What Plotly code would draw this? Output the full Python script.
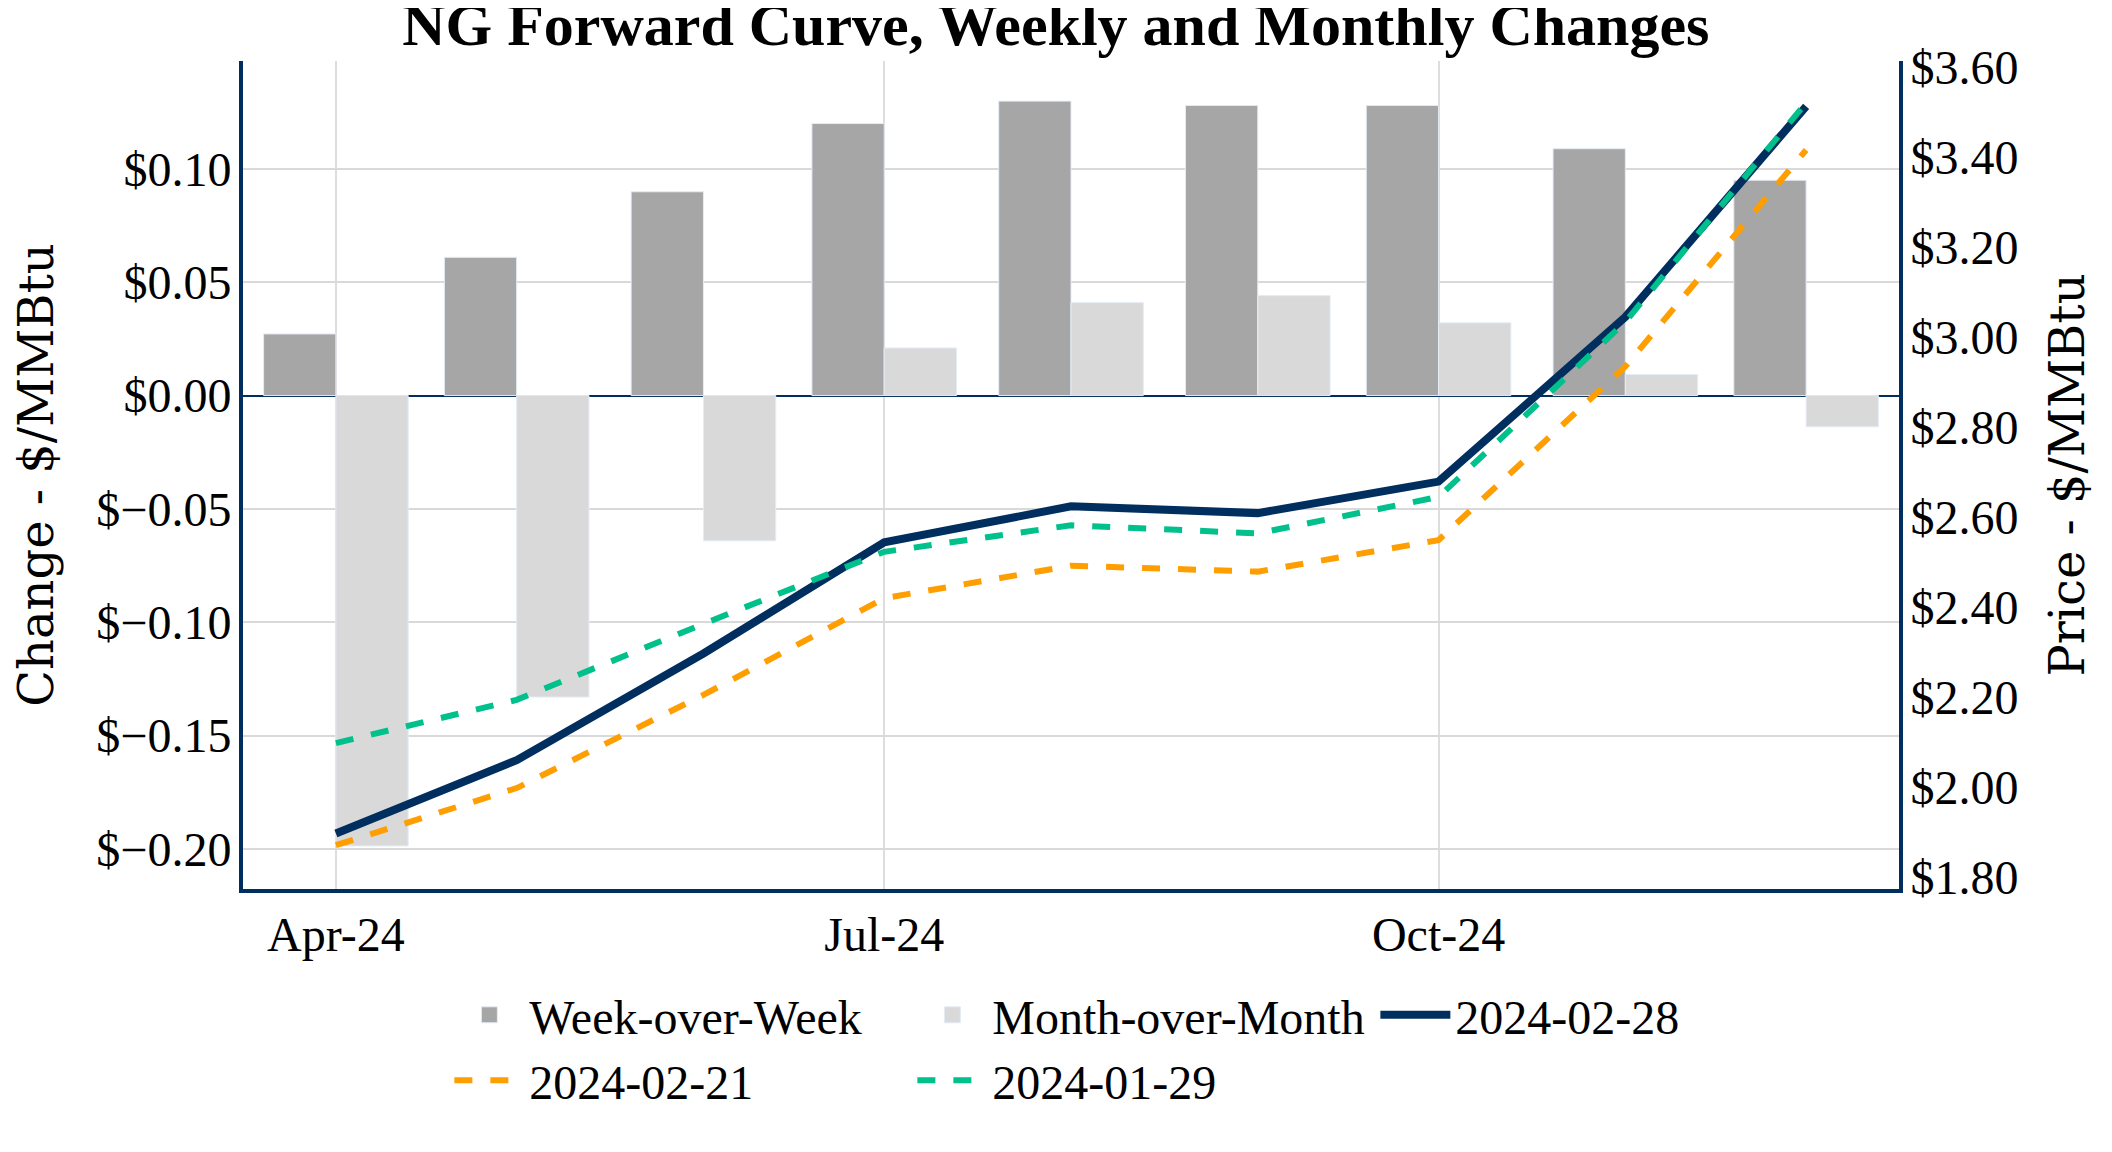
import plotly.graph_objects as go

months = ["2024-04-01", "2024-05-01", "2024-06-01", "2024-07-01", "2024-08-01",
          "2024-09-01", "2024-10-01", "2024-11-01", "2024-12-01"]

week_over_week = [0.0272, 0.0610, 0.0899, 0.1200, 0.1299, 0.1280, 0.1280, 0.1089, 0.0950]
month_over_month = [-0.1987, -0.1330, -0.0641, 0.0210, 0.0410, 0.0441, 0.0321, 0.0093, -0.0138]

curve_0228 = [1.896, 2.059, 2.296, 2.543, 2.623, 2.608, 2.678, 3.044, 3.512]
curve_0221 = [1.870, 1.997, 2.204, 2.419, 2.491, 2.478, 2.548, 2.934, 3.415]
curve_0129 = [2.097, 2.193, 2.362, 2.522, 2.581, 2.563, 2.644, 3.033, 3.520]

NAVY = "#002F5F"
ORANGE = "#FF9E00"
GREEN = "#00C08B"
WOW_GREY = "#A6A6A6"
MOM_GREY = "#D9D9D9"
EDGE = "#E5ECF6"
SERIF = "Liberation Serif"

fig = go.Figure()
fig.add_trace(go.Bar(x=months, y=week_over_week, name="Week-over-Week", showlegend=False,
                     marker=dict(color=WOW_GREY, line=dict(color=EDGE, width=1))))
fig.add_trace(go.Bar(x=months, y=month_over_month, name="Month-over-Month", showlegend=False,
                     marker=dict(color=MOM_GREY, line=dict(color=EDGE, width=1))))
# legend entries for the bars (larger square swatches)
fig.add_trace(go.Scatter(x=[None], y=[None], mode="markers", name="Week-over-Week",
                         legendrank=1,
                         marker=dict(symbol="square", size=24, color=WOW_GREY,
                                     line=dict(color=EDGE, width=1))))
fig.add_trace(go.Scatter(x=[None], y=[None], mode="markers", name="Month-over-Month",
                         legendrank=2,
                         marker=dict(symbol="square", size=24, color=MOM_GREY,
                                     line=dict(color=EDGE, width=1))))
fig.add_trace(go.Scatter(x=months, y=curve_0228, name="2024-02-28", mode="lines",
                         yaxis="y2", legendrank=3, line=dict(color=NAVY, width=8)))
fig.add_trace(go.Scatter(x=months, y=curve_0221, name="2024-02-21", mode="lines",
                         yaxis="y2", legendrank=4, line=dict(color=ORANGE, width=6, dash="dash")))
fig.add_trace(go.Scatter(x=months, y=curve_0129, name="2024-01-29", mode="lines",
                         yaxis="y2", legendrank=5, line=dict(color=GREEN, width=6, dash="dash")))

fig.update_layout(
    width=2104, height=1144,
    margin=dict(l=235, r=213, t=53, b=263, autoexpand=False),
    paper_bgcolor="white", plot_bgcolor="white",
    barmode="group",
    font=dict(family=SERIF, size=48, color="black"),
    title=dict(text="<b>NG Forward Curve, Weekly and Monthly Changes</b>",
               font=dict(family=SERIF, size=60, color="black"),
               x=0.498, xanchor="center", xref="container", y=0.986, yanchor="middle"),
    xaxis=dict(type="date", range=["2024-03-16 14:00", "2024-12-16 10:00"],
               tickformat="%b-%y", dtick="M3", tick0="2024-04-01",
               showgrid=True, gridcolor="#DDDDDD", gridwidth=1.5,
               showline=True, linecolor=NAVY, linewidth=4,
               ticks="", ticklabelstandoff=0,
               tickfont=dict(family=SERIF, size=48, color="black")),
    yaxis=dict(range=[-0.2177, 0.1476], dtick=0.05, tickformat=".2f", tickprefix="$",
               showgrid=True, gridcolor="#D9D9D9", gridwidth=2,
               zeroline=True, zerolinecolor=NAVY, zerolinewidth=2,
               showline=True, linecolor=NAVY, linewidth=4,
               ticks="", ticklabelstandoff=-2,
               tickfont=dict(family=SERIF, size=48, color="black"),
               title=dict(text="Change - $/MMBtu", standoff=30,
                          font=dict(family="DejaVu Serif", size=48, color="black"))),
    yaxis2=dict(range=[1.7727, 3.6127], dtick=0.2, tickformat=".2f", tickprefix="$",
                overlaying="y", side="right", showgrid=False, zeroline=False,
                showline=True, linecolor=NAVY, linewidth=4,
                ticks="", ticklabelstandoff=-2,
                tickfont=dict(family=SERIF, size=48, color="black"),
                title=dict(text="Price - $/MMBtu", standoff=34,
                           font=dict(family="DejaVu Serif", size=48, color="black"))),
    legend=dict(orientation="h", x=0.544, xanchor="center", y=-0.1064, yanchor="top",
                font=dict(family=SERIF, size=48, color="black"),
                itemwidth=70, entrywidth=378, bgcolor="rgba(0,0,0,0)"),
    showlegend=True,
)

fig.write_html("out.html")
